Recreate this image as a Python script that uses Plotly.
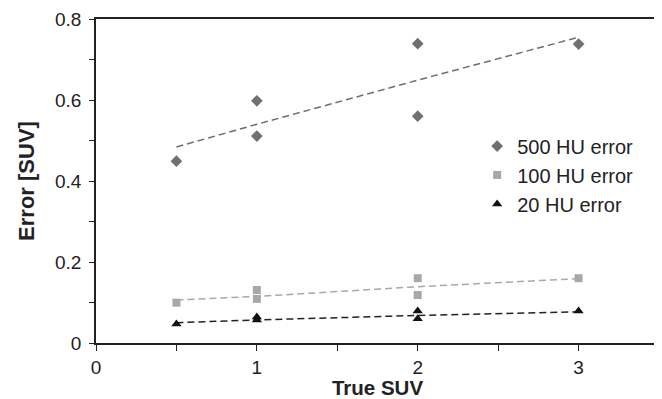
import plotly.graph_objects as go

# Data
x_pts = [0.5, 1, 1, 2, 2, 3]
err_500 = [0.449, 0.598, 0.511, 0.739, 0.560, 0.738]
err_100 = [0.0995, 0.131, 0.109, 0.160, 0.1185, 0.160]
err_20 = [0.047, 0.064, 0.057, 0.079, 0.060, 0.079]

trend_x = [0.5, 1, 2, 3]
trend_500 = [0.484, 0.540, 0.649, 0.755]
trend_100 = [0.106, 0.115, 0.139, 0.159]
trend_20 = [0.050, 0.057, 0.068, 0.077]

names = ["500 HU error", "100 HU error", "20 HU error"]
x_ticks = [0, 1, 2, 3]
y_ticks = [0, 0.2, 0.4, 0.6, 0.8]
y_ticklabels = ["0", "0.2", "0.4", "0.6", "0.8"]

FONT = "Arial, Liberation Sans, sans-serif"

fig = go.Figure()

# trend lines
fig.add_trace(go.Scatter(x=trend_x, y=trend_500, mode="lines", showlegend=False,
                         line=dict(color="#6e6e6e", width=1.5, dash="7px,4px"), hoverinfo="skip"))
fig.add_trace(go.Scatter(x=trend_x, y=trend_100, mode="lines", showlegend=False,
                         line=dict(color="#a9a9a9", width=1.5, dash="7px,4px"), hoverinfo="skip"))
fig.add_trace(go.Scatter(x=trend_x, y=trend_20, mode="lines", showlegend=False,
                         line=dict(color="#222222", width=1.5, dash="7px,4px"), hoverinfo="skip"))

# points
fig.add_trace(go.Scatter(x=x_pts, y=err_500, mode="markers", name=names[0],
                         marker=dict(symbol="diamond", size=9, color="#707070")))
fig.add_trace(go.Scatter(x=x_pts, y=err_100, mode="markers", name=names[1],
                         marker=dict(symbol="square", size=8, color="#a8a8a8")))
fig.add_trace(go.Scatter(x=x_pts, y=err_20, mode="markers", name=names[2],
                         marker=dict(symbol="triangle-up", size=9, color="#111111")))

# The page is drawn with an 8px body margin, so the figure is sized to fit.
fig.update_layout(
    width=654, height=391,
    margin=dict(l=88, r=3, t=11, b=56, autoexpand=False),
    paper_bgcolor="white", plot_bgcolor="white",
    font=dict(family=FONT, size=19, color="#222222"),
    legend=dict(x=0.677, y=0.668, xanchor="left", yanchor="top",
                bgcolor="rgba(0,0,0,0)", font=dict(size=20),
                itemwidth=30, tracegroupgap=0),
)

fig.update_xaxes(
    range=[0, 3.5], tickvals=x_ticks, ticktext=[str(v) for v in x_ticks],
    showgrid=False, zeroline=False, automargin=False,
    showline=True, linecolor="#222222", linewidth=1.5, mirror=True,
    ticks="outside", ticklen=6, tickcolor="#222222", tickwidth=1.2,
    minor=dict(dtick=0.5, ticks="outside", ticklen=6, tickcolor="#222222", tickwidth=1.2),
    title=dict(text="<b>True SUV</b>", font=dict(size=20.5), standoff=5),
)
fig.update_yaxes(
    range=[0, 0.8], tickvals=y_ticks, ticktext=y_ticklabels,
    showgrid=False, zeroline=False, automargin=False,
    showline=True, linecolor="#222222", linewidth=1.5, mirror=True,
    ticks="outside", ticklen=5, tickcolor="#222222", tickwidth=1.2,
    ticklabelstandoff=4,
    minor=dict(dtick=0.1, ticks="outside", ticklen=5, tickcolor="#222222", tickwidth=1.2),
    title=dict(text="<b>Error [SUV]</b>", font=dict(size=22), standoff=14),
)

fig.write_html("out.html")
